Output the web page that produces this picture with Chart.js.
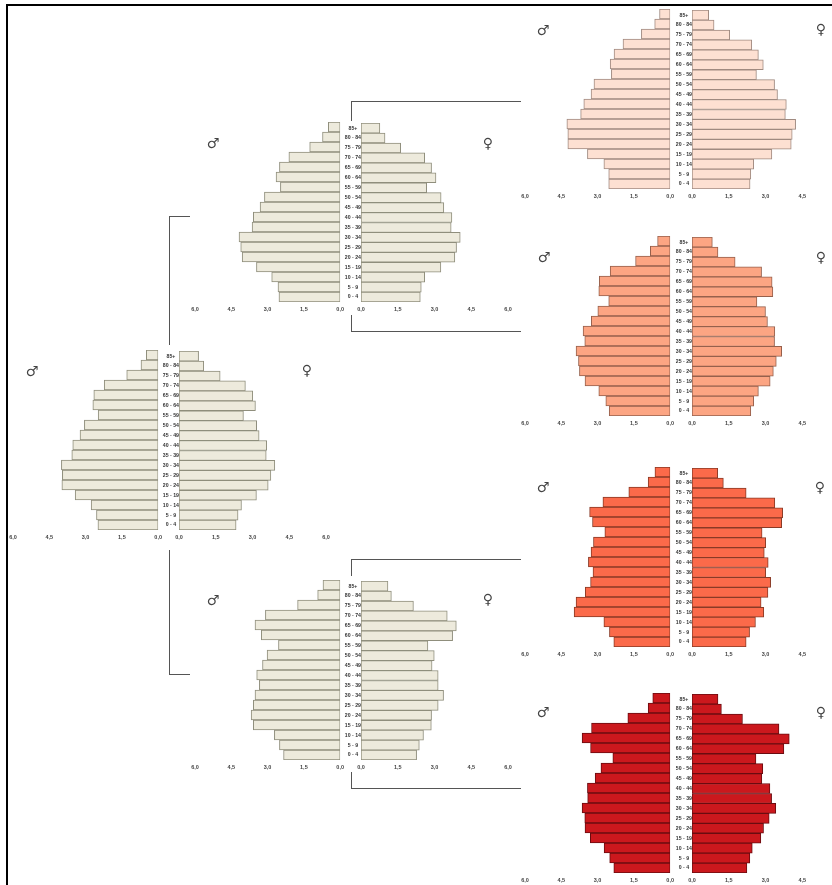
<!DOCTYPE html>
<html><head><meta charset="utf-8">
<script src="https://cdn.jsdelivr.net/npm/chart.js@4"></script>
<style>
html,body{margin:0;padding:0;background:#fff;width:832px;height:885px;overflow:hidden}
#stage{position:relative;width:832px;height:885px;overflow:hidden}
canvas{position:absolute;filter:blur(.35px)}
.ln{position:absolute;background:#555}
.fr{position:absolute;background:#000}
.sym{position:absolute;font:14px "DejaVu Sans";color:#444;transform:translate(-50%,-50%);line-height:1}
</style></head><body><div id="stage"></div>
<script>
// Age groups, top to bottom
const ageLabels=['85+','80 - 84','75 - 79','70 - 74','65 - 69','60 - 64','55 - 59','50 - 54','45 - 49','40 - 44','35 - 39','30 - 34','25 - 29','20 - 24','15 - 19','10 - 14','5 - 9','0 - 4'];
const xTickLabels=['0,0','1,5','3,0','4,5','6,0'];
const mainMale=[.49,.71,1.30,2.23,2.66,2.70,2.48,3.05,3.23,3.53,3.57,4.00,3.96,3.98,3.43,2.77,2.55,2.49];
const mainFemale=[.80,1.01,1.68,2.71,3.01,3.12,2.63,3.17,3.27,3.58,3.56,3.91,3.75,3.64,3.16,2.55,2.41,2.33];
const upperMale=[.49,.73,1.26,2.12,2.51,2.65,2.47,3.13,3.31,3.59,3.64,4.18,4.11,4.05,3.46,2.83,2.57,2.53];
const upperFemale=[.77,.98,1.62,2.60,2.88,3.06,2.68,3.27,3.38,3.71,3.68,4.05,3.90,3.83,3.26,2.60,2.46,2.42];
const lowerMale=[.71,.93,1.76,3.09,3.52,3.26,2.55,3.02,3.21,3.45,3.34,3.52,3.59,3.68,3.59,2.72,2.51,2.34];
const lowerFemale=[1.10,1.24,2.14,3.52,3.89,3.74,2.73,2.99,2.90,3.15,3.15,3.37,3.15,2.88,2.87,2.55,2.38,2.27];
const r1Male=[.44,.64,1.19,1.95,2.32,2.48,2.43,3.15,3.27,3.57,3.70,4.27,4.23,4.23,3.42,2.74,2.54,2.54];
const r1Female=[.68,.90,1.54,2.44,2.71,2.91,2.63,3.37,3.49,3.85,3.81,4.23,4.09,4.05,3.26,2.52,2.40,2.37];
const r2Male=[.52,.82,1.43,2.48,2.93,2.95,2.54,2.99,3.26,3.60,3.53,3.89,3.79,3.75,3.52,2.95,2.66,2.52];
const r2Female=[.83,1.06,1.76,2.84,3.27,3.30,2.65,3.00,3.08,3.38,3.37,3.66,3.44,3.32,3.19,2.71,2.52,2.40];
const r3Male=[.63,.91,1.71,2.78,3.33,3.21,2.70,3.17,3.27,3.38,3.19,3.29,3.51,3.89,3.97,2.74,2.51,2.33];
const r3Female=[1.05,1.28,2.21,3.38,3.70,3.66,2.86,3.01,2.95,3.11,3.01,3.21,3.10,2.82,2.93,2.59,2.35,2.21];
const r4Male=[.72,.91,1.75,3.25,3.64,3.29,2.37,2.86,3.10,3.42,3.41,3.64,3.53,3.52,3.30,2.73,2.50,2.33];
const r4Female=[1.06,1.20,2.06,3.55,3.97,3.75,2.61,2.89,2.85,3.18,3.25,3.42,3.15,2.92,2.81,2.46,2.36,2.24];

const stage=document.getElementById('stage');
const PLOT=147,AX=15,PADT=2,H=180,FONT='"Liberation Sans"';
const panels=[
 {m:mainMale,f:mainFemale,zl:160,zr:179,top:350,fill:'#EDEADC',edge:'#8f8e7c',sm:[32,371],sf:[307,370]},
 {m:upperMale,f:upperFemale,zl:342,zr:361,top:122,fill:'#EDEADC',edge:'#8f8e7c',sm:[213,143],sf:[488,143]},
 {m:lowerMale,f:lowerFemale,zl:342,zr:361,top:580,fill:'#EDEADC',edge:'#8f8e7c',sm:[213,600],sf:[488,599]},
 {m:r1Male,f:r1Female,zl:672,zr:692,top:9,fill:'#FDE0D2',edge:'#a08a80',sm:[543,30],sf:[821,29]},
 {m:r2Male,f:r2Female,zl:672,zr:692,top:236,fill:'#FCA583',edge:'#96604c',sm:[544,257],sf:[821,257]},
 {m:r3Male,f:r3Female,zl:672,zr:692,top:467,fill:'#FB6A4A',edge:'#8a3a26',sm:[543,487],sf:[820,487]},
 {m:r4Male,f:r4Female,zl:672,zr:692,top:693,fill:'#CB181D',edge:'#6a0c10',sm:[543,712],sf:[821,712]}
];
function mk(x,y,w,h,cfg){
 const c=document.createElement('canvas');
 c.width=w;c.height=h;c.style.left=x+'px';c.style.top=y+'px';c.style.width=w+'px';c.style.height=h+'px';
 stage.appendChild(c);
 new Chart(c,cfg);
}
function side(vals,p,isLeft,gap){
 return {type:'bar',
  data:{labels:ageLabels,datasets:[{data:vals,backgroundColor:p.fill,borderColor:p.edge,borderWidth:1,borderSkipped:false,barThickness:10}]},
  options:{indexAxis:'y',responsive:false,animation:false,
   layout:{padding:isLeft?{left:12,right:6,top:PADT,bottom:0}:{left:0,right:12,top:PADT,bottom:0}},
   plugins:{legend:{display:false},tooltip:{enabled:false}},
   scales:{
    x:{reverse:isLeft,min:0,max:6,grid:{display:false,drawTicks:false},border:{display:false},
     afterFit(s){s.height=AX},
     ticks:{stepSize:1.5,autoSkip:false,maxRotation:0,padding:4,color:'#444',font:{family:FONT,size:5.5,weight:'bold'},callback:v=>xTickLabels[Math.round(v/1.5)]}},
    y:{display:!isLeft,position:'left',grid:{display:false,drawTicks:false},border:{display:false},
     afterFit(s){s.width=gap},
     ticks:{autoSkip:false,padding:0,crossAlign:'center',color:'#333',font:{family:FONT,size:5.2,weight:'bold'}}}
   }}};
}
panels.forEach(p=>{
 const gap=p.zr-p.zl;
 mk(p.zl-PLOT-12,p.top-PADT,12+PLOT+6,PADT+H+AX,side(p.m,p,true,0));
 mk(p.zl,p.top-PADT,gap+PLOT+12,PADT+H+AX,side(p.f,p,false,gap));
 [[p.sm,'\u2642'],[p.sf,'\u2640']].forEach(([pos,g])=>{
  const s=document.createElement('span');s.className='sym';s.textContent=g;s.style.left=pos[0]+'px';s.style.top=pos[1]+'px';stage.appendChild(s);
 });
});
function box(cls,x,y,w,h){const d=document.createElement('div');d.className=cls;d.style.cssText=`left:${x}px;top:${y}px;width:${w}px;height:${h}px`;stage.appendChild(d)}
// connector brackets
[[169,216,21,1],[169,216,1,129],[169,550,1,124],[169,674,21,1],
 [351,101,170,1],[351,101,1,20],[351,315,1,16],[351,331,170,1],
 [351,559,170,1],[351,559,1,17],[351,772,1,16],[351,788,170,1]].forEach(a=>box('ln',...a));
// outer frame
box('fr',6,4,826,2);box('fr',6,4,2,881);
</script></body></html>
